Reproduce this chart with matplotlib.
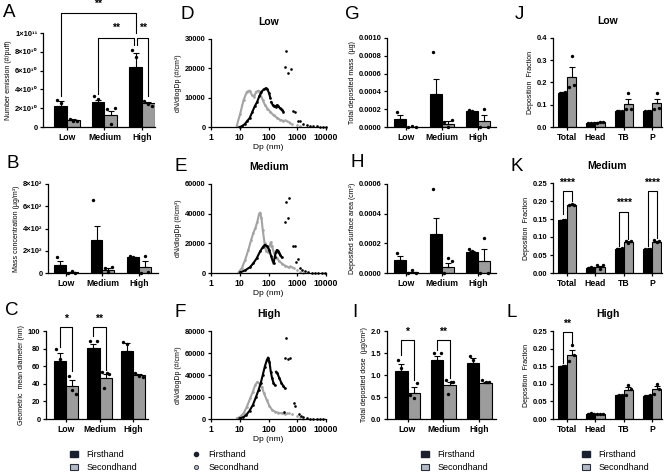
import matplotlib.pyplot as plt
import numpy as np
from matplotlib.lines import Line2D
from matplotlib.patches import Patch
from matplotlib.ticker import NullLocator

plt.rcParams['font.family'] = ['Liberation Sans', 'DejaVu Sans']
plt.rcParams['font.weight'] = 'bold'

groups = ['Low', 'Medium', 'High']
regions = ['Total', 'Head', 'TB', 'P']

# A: number emission (#/puff)
num_first = [2.27e10, 2.62e10, 6.35e10]
num_first_sem = [0.5e10, 0.3e10, 1.5e10]
num_second = [0.7e10, 1.28e10, 2.55e10]
num_second_sem = [0.1e10, 0.45e10, 0.15e10]
num_first_pts = [[2.9e10, 2.55e10, 1.4e10], [3.25e10, 2.95e10, 1.65e10], [8.15e10, 7.4e10, 3.5e10]]
num_second_pts = [[0.88e10, 0.65e10, 0.6e10], [1.95e10, 0.35e10, 2.0e10], [2.75e10, 2.5e10, 2.2e10]]

# B: mass concentration (ug/m3)
mass_first = [75, 298, 140]
mass_first_sem = [30, 126, 5]
mass_second = [6, 30, 54]
mass_second_sem = [4, 15, 50]
mass_first_pts = [[143, 50, 32], [657, 130, 107], [155, 143, 122]]
mass_second_pts = [[0, 15, 3], [45, 5, 58], [2, 155, 5]]

# C: geometric mean diameter (nm)
gmd_first = [66, 81, 77]
gmd_first_sem = [9, 4.6, 9]
gmd_second = [37, 47, 50]
gmd_second_sem = [7, 4, 1.5]
gmd_first_pts = [[80, 68, 50], [89, 66, 89], [88, 85, 58]]
gmd_second_pts = [[49, 33, 28], [53, 35, 52, 51], [52, 49, 48]]

# D-F: size distributions, (diameter nm, dN/dlogDp)
low_first_dense = [
    ([10, 12, 15, 18, 22, 27, 33, 40, 48, 57, 68, 80, 92, 105, 115],
     [0, 300, 1000, 2000, 3000, 5000, 7000, 8500, 10500, 12000, 12800, 13200, 12800, 11500, 10000]),
    ([125, 140, 155, 170, 185, 200, 220, 245, 270, 300, 330],
     [8500, 7500, 7000, 7200, 6800, 7500, 7000, 6500, 6200, 5800, 5200]),
]
low_first_sparse = ([378, 409, 493, 595, 740, 850, 1100, 1250, 1640, 2150, 2800, 3600, 4700, 6200, 8000, 10000],
                    [20600, 25800, 18500, 19700, 5500, 5100, 2100, 2100, 900, 600, 400, 300, 200, 100, 0, 0])
low_second_dense = [
    ([7.9, 10.4, 13.6, 17.7, 22, 26.5, 31.8, 37, 45, 51, 63, 76, 92, 115, 150, 195, 250, 330],
     [500, 4600, 9200, 12000, 12400, 10900, 10300, 12000, 12400, 11500, 9200, 7400, 6300, 5200, 4000, 3200, 2500, 2100]),
]
low_second_sparse = ([380, 430, 500, 580, 660, 960, 1250],
                     [2300, 2000, 1700, 1500, 900, 600, 200])

med_first_dense = [
    ([10.4, 15.5, 23, 30, 39, 51, 63, 74, 87, 105, 124, 141],
     [450, 1800, 4000, 6700, 10000, 14500, 17400, 19000, 18300, 15700, 11200, 7800]),
    ([150, 165, 180, 195, 215, 235, 260, 290],
     [6500, 11000, 14000, 15500, 15000, 13500, 12000, 10500]),
]
med_first_sparse = ([378, 408, 468, 533, 735, 840, 910, 1040, 1250, 1470, 1900, 2460, 3200, 4170, 5400, 7000, 9100],
                    [34200, 47600, 37400, 50300, 17900, 17900, 7200, 9400, 3400, 2200, 1100, 500, 300, 100, 0, 0, 0])
med_second_dense = [
    ([9.1, 11.9, 15.5, 20, 25, 30, 35, 41, 47, 51, 57, 63, 73, 83, 95, 108, 120, 132, 157, 195, 240, 300, 380, 500],
     [450, 3400, 9000, 15700, 22400, 27300, 30200, 34700, 39800, 40700, 37000, 29100, 20100, 14500, 13900, 17900,
      20800, 17900, 13400, 10000, 7800, 6300, 4900, 3800]),
]
med_second_sparse = ([565, 640, 770, 960, 1250, 1630],
                     [4500, 4000, 3100, 1800, 450, 0])

high_first_dense = [
    ([9.9, 12.9, 16.8, 22, 28.5, 37, 45, 54, 63, 74, 87, 97, 108, 120, 134, 149, 166],
     [600, 1500, 3600, 7600, 12700, 20200, 26300, 32900, 39900, 47400, 53500, 55900, 52000, 42900, 36900, 32900, 30800]),
    ([184, 205, 240, 280, 330, 378],
     [42900, 41400, 36900, 32900, 29900, 27800]),
]
high_first_sparse = ([350, 378, 410, 495, 565, 770, 865, 1120, 1320, 1630, 2150, 2800, 3600, 4700, 6200, 8000],
                     [6600, 55900, 74000, 55000, 55900, 14800, 11800, 4500, 2700, 1500, 900, 300, 300, 0, 0, 0])
high_second_dense = [
    ([8, 10.4, 13.6, 17.7, 23, 28.5, 34.5, 41, 48, 59, 70, 87, 108, 134, 170, 220, 290, 380],
     [600, 2100, 5100, 11200, 18700, 24800, 30800, 33800, 32300, 28700, 23300, 17200, 11800, 8200, 6600, 5700,
      5100, 4500]),
]
high_second_sparse = ([455, 533, 640, 960, 1250, 1630],
                      [5100, 5100, 4500, 3000, 1500, 400])

# G: total deposited mass (ug)
dmass_first = [0.000094, 0.000366, 0.000177]
dmass_first_sem = [0.000038, 0.00017, 0.000005]
dmass_second = [0.000003, 0.000038, 0.000068]
dmass_second_sem = [0.000002, 0.00003, 0.000064]
dmass_first_pts = [[0.00017, 0.00007, 0.00004], [0.00084, 0.00014, 0.00012], [0.000196, 0.000177, 0.00016]]
dmass_second_pts = [[0.0, 0.000008, 0.0], [0.000057, 0.0, 0.000083], [0.0, 0.000207, 0.0]]

# H: deposited surface area (cm2)
area_first = [0.000085, 0.000262, 0.000139]
area_first_sem = [0.000027, 0.000107, 0.000007]
area_second = [0.000004, 0.00004, 0.000078]
area_second_sem = [0.000003, 0.00003, 0.000083]
area_first_pts = [[0.000134, 0.00007, 0.00005], [0.000564, 0.00012, 0.0001], [0.000161, 0.000146, 0.00012]]
area_second_pts = [[0.0, 0.00002, 0.0], [0.0, 0.0001, 0.000078], [0.0, 0.000235, 0.0]]

# I: total deposited dose (ug/cm2)
dose_first = [1.094, 1.336, 1.275]
dose_first_sem = [0.15, 0.09, 0.12]
dose_second = [0.6, 0.77, 0.82]
dose_second_sem = [0.12, 0.075, 0.02]
dose_first_pts = [[1.34, 1.15, 0.8], [1.49, 1.03, 1.49], [1.43, 1.35, 1.05]]
dose_second_pts = [[0.55, 0.47, 0.81], [0.88, 0.57, 0.845, 0.845], [0.88, 0.845, 0.845]]

# J-L: deposition fraction per region
frac_low_first = [0.155, 0.018, 0.072, 0.072]
frac_low_first_sem = [0.002, 0.001, 0.001, 0.001]
frac_low_second = [0.223, 0.021, 0.103, 0.106]
frac_low_second_sem = [0.047, 0.002, 0.021, 0.022]
frac_low_first_pts = [[0.152, 0.155, 0.158], [0.017, 0.018, 0.019], [0.071, 0.072, 0.073], [0.071, 0.072, 0.073]]
frac_low_second_pts = [[0.178, 0.317, 0.19], [0.02, 0.022, 0.021], [0.083, 0.151, 0.083], [0.083, 0.154, 0.085]]

frac_med_first = [0.146, 0.015, 0.068, 0.067]
frac_med_first_sem = [0.002, 0.001, 0.001, 0.001]
frac_med_second = [0.19, 0.017, 0.086, 0.087]
frac_med_second_sem = [0.002, 0.003, 0.002, 0.003]
frac_med_first_pts = [[0.145, 0.147, 0.148], [0.015, 0.016, 0.015], [0.067, 0.068, 0.069], [0.066, 0.067, 0.068]]
frac_med_second_pts = [[0.188, 0.193, 0.19], [0.022, 0.012, 0.022], [0.088, 0.084, 0.089], [0.093, 0.085, 0.09]]

frac_high_first = [0.15, 0.015, 0.067, 0.066]
frac_high_first_sem = [0.001, 0.001, 0.001, 0.001]
frac_high_second = [0.183, 0.014, 0.083, 0.086]
frac_high_second_sem = [0.014, 0.001, 0.008, 0.009]
frac_high_first_pts = [[0.149, 0.15, 0.151], [0.015, 0.016, 0.014], [0.066, 0.067, 0.068], [0.065, 0.066, 0.067]]
frac_high_second_pts = [[0.165, 0.209, 0.181], [0.013, 0.015, 0.014], [0.068, 0.096, 0.084], [0.072, 0.1, 0.086]]

GREY = '#9c9c9c'
LINE_GREY = '#a3a3a3'

W, H = 669, 476
fig = plt.figure(figsize=(W / 100, H / 100), dpi=100)


def add_ax(left, top, right, bottom):
    ax = fig.add_axes([left / W, 1 - bottom / H, (right - left) / W, (bottom - top) / H])
    for s in ['top', 'right']:
        ax.spines[s].set_visible(False)
    for s in ['left', 'bottom']:
        ax.spines[s].set_linewidth(0.9)
    ax.tick_params(width=0.9, length=2.5, pad=1.5)
    ax.tick_params(axis='y', labelsize=5.4)
    ax.tick_params(axis='x', labelsize=6.2)
    return ax


def bar_panel(ax, cats, first, first_sem, second, second_sem, first_pts, second_pts, w, xlim):
    x = np.arange(len(cats))
    ax.bar(x - w / 2, first, w, color='black', edgecolor='black', lw=0.8, zorder=2)
    ax.bar(x + w / 2, second, w, color=GREY, edgecolor='black', lw=0.8, zorder=2)
    ax.errorbar(x - w / 2, first, yerr=[np.zeros(len(x)), first_sem], fmt='none',
                ecolor='black', elinewidth=0.8, capsize=2, capthick=0.8, zorder=3)
    ax.errorbar(x + w / 2, second, yerr=[np.zeros(len(x)), second_sem], fmt='none',
                ecolor='black', elinewidth=0.8, capsize=2, capthick=0.8, zorder=3)
    for i in range(len(cats)):
        for pts, cx in ((first_pts[i], x[i] - w / 2), (second_pts[i], x[i] + w / 2)):
            off = np.linspace(-w * 0.3, w * 0.3, len(pts))
            ax.scatter(cx + off, pts, s=6, color='black', lw=0, zorder=4, clip_on=False)
    ax.set_xticks(x, cats)
    ax.set_xlim(xlim)


def bracket(ax, x1, x2, y, y1, y2, text, ty, fs=7.5):
    ax.plot([x1, x1, x2, x2], [y1, y, y, y2], color='black', lw=0.8, clip_on=False)
    ax.text((x1 + x2) / 2, ty, text, ha='center', va='center', fontsize=fs, clip_on=False)


def size_panel(ax, f_dense, f_sparse, s_dense, s_sparse, ymax, title):
    for d, v in s_dense:
        ax.plot(d, v, '-o', color=LINE_GREY, lw=1.5, ms=1.9, mew=0, clip_on=False)
    ax.plot(*s_sparse, 'o', color=LINE_GREY, ms=1.9, mew=0, clip_on=False)
    for d, v in f_dense:
        ax.plot(d, v, '-o', color='black', lw=1.5, ms=1.9, mew=0, clip_on=False)
    ax.plot(*f_sparse, 'o', color='black', ms=1.9, mew=0, clip_on=False)
    ax.set_xscale('log')
    ax.set_xlim(1, 10000)
    ax.set_xticks([1, 10, 100, 1000, 10000], ['1', '10', '100', '1000', '10000'])
    ax.xaxis.set_minor_locator(NullLocator())
    ax.set_ylim(0, ymax)
    ax.set_yticks(np.arange(0, ymax + 1, 10000 if ymax <= 30000 else 20000))
    ax.set_xlabel('Dp (nm)', fontsize=6, labelpad=2)
    ax.set_ylabel('dN/dlogDp (#/cm³)', fontsize=5, labelpad=2)
    ax.set_title(title, fontsize=7.5, fontweight='bold', pad=10)


# ---- column 1 ----
axA = add_ax(43, 33, 155, 127)
w = 0.34
bar_panel(axA, groups, num_first, num_first_sem, num_second, num_second_sem,
          num_first_pts, num_second_pts, w, (-0.64, 2.35))
axA.set_ylim(0, 1e11)
axA.set_yticks([0, 2e10, 4e10, 6e10, 8e10, 1e11],
               ['0', '2×10¹⁰', '4×10¹⁰', '6×10¹⁰', '8×10¹⁰', '1×10¹¹'])
axA.set_ylabel('Number emission (#/puff)', fontsize=5, labelpad=2)
bracket(axA, -w / 2, 2 - w / 2, 1.21e11, 3.3e10, 1.0e11, '**', 1.31e11)
bracket(axA, 1 - w / 2, 2 - w / 2 - 0.04, 0.947e11, 3.5e10, 0.876e11, '**', 1.05e11)
bracket(axA, 2 - w / 2 + 0.04, 2 + w / 2, 0.947e11, 0.876e11, 3.3e10, '**', 1.05e11)

axB = add_ax(48, 184, 158, 273)
bar_panel(axB, groups, mass_first, mass_first_sem, mass_second, mass_second_sem,
          mass_first_pts, mass_second_pts, 0.32, (-0.49, 2.52))
axB.set_ylim(0, 800)
axB.set_yticks([0, 200, 400, 600, 800], ['0', '2×10²', '4×10²', '6×10²', '8×10²'])
axB.set_ylabel('Mass concentration (µg/m³)', fontsize=5, labelpad=2)

axC = add_ax(46, 331, 148, 419)
w = 0.37
bar_panel(axC, groups, gmd_first, gmd_first_sem, gmd_second, gmd_second_sem,
          gmd_first_pts, gmd_second_pts, w, (-0.6, 2.45))
axC.set_ylim(0, 100)
axC.set_yticks(np.arange(0, 101, 20))
axC.set_ylabel('Geometric  mean diameter (nm)', fontsize=5, labelpad=2)
bracket(axC, -w / 2, w / 2, 105, 82, 55, '*', 114)
bracket(axC, 1 - w / 2, 1 + w / 2, 105, 94, 56, '**', 114)

# ---- column 2 ----
axD = add_ax(211, 39, 326, 127)
size_panel(axD, low_first_dense, low_first_sparse, low_second_dense, low_second_sparse, 30000, 'Low')
axE = add_ax(211, 184, 326, 273)
size_panel(axE, med_first_dense, med_first_sparse, med_second_dense, med_second_sparse, 60000, 'Medium')
axF = add_ax(211, 331, 326, 419)
size_panel(axF, high_first_dense, high_first_sparse, high_second_dense, high_second_sparse, 80000, 'High')

# ---- column 3 ----
axG = add_ax(387, 38, 496, 127)
bar_panel(axG, groups, dmass_first, dmass_first_sem, dmass_second, dmass_second_sem,
          dmass_first_pts, dmass_second_pts, 0.33, (-0.53, 2.5))
axG.set_ylim(0, 0.001)
axG.set_yticks(np.linspace(0, 0.001, 6), [f'{v:.4f}' for v in np.linspace(0, 0.001, 6)])
axG.set_ylabel('Total deposited mass  (µg)', fontsize=5, labelpad=2)

axH = add_ax(387, 184, 496, 273)
bar_panel(axH, groups, area_first, area_first_sem, area_second, area_second_sem,
          area_first_pts, area_second_pts, 0.33, (-0.53, 2.5))
axH.set_ylim(0, 0.0006)
axH.set_yticks(np.linspace(0, 0.0006, 4), [f'{v:.4f}' for v in np.linspace(0, 0.0006, 4)])
axH.set_ylabel('Deposited surface area (cm²)', fontsize=5, labelpad=2)

axI = add_ax(387, 331, 496, 419)
w = 0.34
bar_panel(axI, groups, dose_first, dose_first_sem, dose_second, dose_second_sem,
          dose_first_pts, dose_second_pts, w, (-0.57, 2.46))
axI.set_ylim(0, 2.0)
axI.set_yticks(np.arange(0, 2.01, 0.5), [f'{v:.1f}' for v in np.arange(0, 2.01, 0.5)])
axI.set_ylabel('Total deposited dose  (µg/cm²)', fontsize=5, labelpad=2)
bracket(axI, -w / 2, w / 2, 1.79, 1.45, 0.88, '*', 1.98)
bracket(axI, 1 - w / 2, 1 + w / 2, 1.79, 1.56, 0.94, '**', 1.98)

# ---- column 4 ----
w = 0.32
axJ = add_ax(553, 38, 662, 127)
bar_panel(axJ, regions, frac_low_first, frac_low_first_sem, frac_low_second, frac_low_second_sem,
          frac_low_first_pts, frac_low_second_pts, w, (-0.5, 3.35))
axJ.set_ylim(0, 0.4)
axJ.set_yticks(np.arange(0, 0.41, 0.1), [f'{v:.1f}' for v in np.arange(0, 0.41, 0.1)])
axJ.set_ylabel('Deposition  Fraction', fontsize=5, labelpad=2)
axJ.set_title('Low', fontsize=7.5, fontweight='bold', pad=10)

axK = add_ax(553, 183, 662, 273)
bar_panel(axK, regions, frac_med_first, frac_med_first_sem, frac_med_second, frac_med_second_sem,
          frac_med_first_pts, frac_med_second_pts, w, (-0.5, 3.35))
axK.set_ylim(0, 0.25)
axK.set_yticks(np.arange(0, 0.251, 0.05), [f'{v:.2f}' for v in np.arange(0, 0.251, 0.05)])
axK.set_ylabel('Deposition  Fraction', fontsize=5, labelpad=2)
axK.set_title('Medium', fontsize=7.5, fontweight='bold', pad=10)
bracket(axK, -w / 2, w / 2, 0.227, 0.165, 0.2, '****', 0.25)
bracket(axK, 2 - w / 2, 2 + w / 2, 0.17, 0.076, 0.095, '****', 0.196)
bracket(axK, 3 - w / 2, 3 + w / 2, 0.227, 0.075, 0.098, '****', 0.25)

axL = add_ax(553, 331, 662, 419)
bar_panel(axL, regions, frac_high_first, frac_high_first_sem, frac_high_second, frac_high_second_sem,
          frac_high_first_pts, frac_high_second_pts, w, (-0.5, 3.35))
axL.set_ylim(0, 0.25)
axL.set_yticks(np.arange(0, 0.251, 0.05), [f'{v:.2f}' for v in np.arange(0, 0.251, 0.05)])
axL.set_ylabel('Deposition  Fraction', fontsize=5, labelpad=2)
axL.set_title('High', fontsize=7.5, fontweight='bold', pad=10)
bracket(axL, -w / 2, w / 2, 0.247, 0.158, 0.214, '**', 0.27)

# panel letters
letters = [('A', 3, 4), ('B', 6, 155), ('C', 5, 302), ('D', 180, 6), ('E', 175, 158), ('F', 175, 304),
           ('G', 345, 6), ('H', 350, 154), ('I', 352, 304), ('J', 515, 6), ('K', 510, 158), ('L', 507, 304)]
for txt, lx, ly in letters:
    fig.text(lx / W, 1 - ly / H, txt, fontsize=13.5, fontweight='normal', va='top', ha='left')

# legends
bar_handles = [Patch(facecolor='#1b2030', edgecolor='#1b2030'),
               Patch(facecolor='#b3b9c5', edgecolor='#2a2f3a', lw=0.8)]
dot_handles = [Line2D([], [], ls='none', marker='o', ms=3, color='#1b2030'),
               Line2D([], [], ls='none', marker='o', ms=3, markerfacecolor='#b3b9c5',
                      markeredgecolor='#2a2f3a', mew=0.6)]
labels = ['Firsthand', 'Secondhand']
for handles, lx in ((bar_handles, 70), (dot_handles, 192), (bar_handles, 421), (bar_handles, 582)):
    leg = fig.legend(handles, labels, loc='upper left', bbox_to_anchor=(lx / W, 1 - 450 / H),
                     frameon=False, fontsize=6.5, handlelength=0.9, handleheight=0.55,
                     handletextpad=0.9, labelspacing=0.45, borderpad=0, borderaxespad=0)
    for t in leg.get_texts():
        t.set_fontweight('normal')

fig.savefig('out.png', dpi=100)
